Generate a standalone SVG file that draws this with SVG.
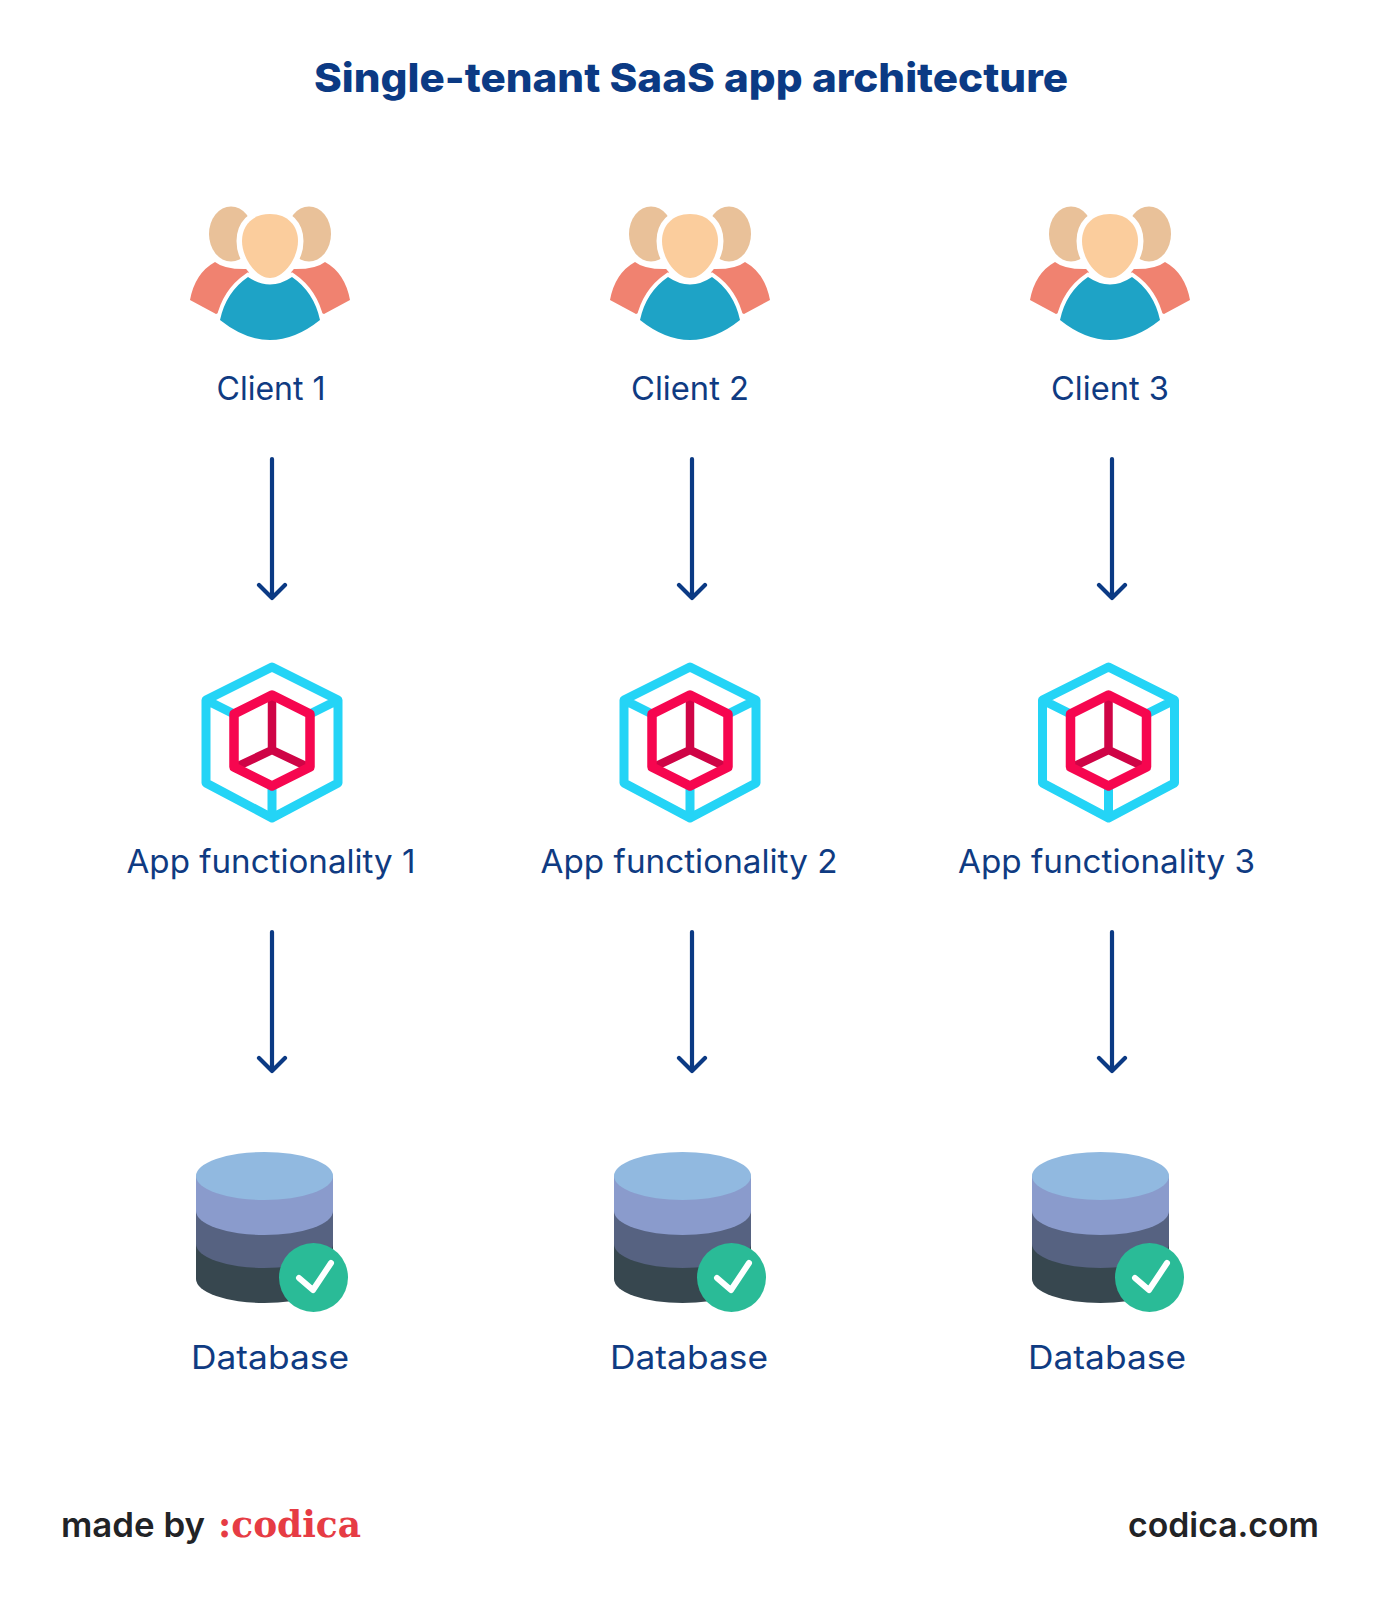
<svg xmlns="http://www.w3.org/2000/svg" width="1380" height="1600" viewBox="0 0 1380 1600">
<style>
text{font-family:"Inter","Liberation Sans",sans-serif}
.title{font-size:40px;font-weight:800;fill:#0b3a84}
.lbl{font-size:32.5px;font-weight:400;fill:#0f3b82}
.foot{font-size:34px;font-weight:600;fill:#222326}
.logo{font-family:"DejaVu Serif","Liberation Serif",serif;font-size:37px;font-weight:700;fill:#e63c44}
.conn{fill:none;stroke:#0b3a84;stroke-width:4.200;stroke-linecap:round;stroke-linejoin:round}
.halo{stroke:#fff;stroke-width:8;paint-order:stroke}
.halo2{stroke:#fff;stroke-width:11;paint-order:stroke}
</style>
<defs>
<g id="people">
<path fill="#f08270" d="M215,262 Q225,270 249,269 L250,300 L216,314 L190,300 Q195,273 215,262Z"/>
<path fill="#f08270" d="M325,262 Q315,270 291,269 L290,300 L324,314 L350,300 Q345,273 325,262Z"/>
<ellipse cx="231" cy="234" rx="22" ry="27.500" fill="#e9c199"/>
<ellipse cx="309" cy="234" rx="22" ry="27.500" fill="#e9c199"/>
<path class="halo" fill="#1ea3c6" d="M248,277 Q270,292 292,277 Q314,292 320,320 Q295,340 270,340 Q245,340 220,320 Q226,292 248,277Z"/>
<path class="halo2" fill="#fbcd9d" d="M270,214 C288,214 298,226 298,241 C298,258 284,278 270,278 C256,278 242,258 242,241 C242,226 252,214 270,214Z"/>
</g>
<g id="cube" fill="none" stroke-linejoin="round">
<path stroke="#24d4f6" stroke-width="9" d="M272,667 L338,700 V783 L272,818 L206,783 V700Z M206,700 L234,714 M338,700 L310,714 M272,818 V786"/>
<path stroke="#cf0446" stroke-width="8.500" d="M272,695 V750 M272,750 L310,768 M272,750 L234,768"/>
<path stroke="#f6064f" stroke-width="9.500" d="M272,695 L310,714 V767 L272,786 L234,767 V714Z"/>
</g>
<g id="db">
<ellipse cx="264.500" cy="1279" rx="68.500" ry="24" fill="#37474f"/>
<path fill="#37474f" d="M196,1244H333V1279H196Z"/>
<ellipse cx="264.500" cy="1244" rx="68.500" ry="24" fill="#566281"/>
<path fill="#566281" d="M196,1211H333V1244H196Z"/>
<ellipse cx="264.500" cy="1211" rx="68.500" ry="24" fill="#8a9bcc"/>
<path fill="#8a9bcc" d="M196,1176H333V1211H196Z"/>
<ellipse cx="264.500" cy="1176" rx="68.500" ry="24" fill="#91b9e0"/>
<circle cx="313.500" cy="1277.500" r="34.500" fill="#2abb97"/>
<path fill="none" stroke="#fff" stroke-width="6" stroke-linecap="round" stroke-linejoin="round" d="M299,1278 L313,1290 L331,1263"/>
</g>
</defs>
<rect width="1380" height="1600" fill="#fff"/>
<text class="title" x="691" y="92" text-anchor="middle" textLength="754" lengthAdjust="spacingAndGlyphs">Single-tenant SaaS app architecture</text>
<g id="connectors">
<path id="c1a" class="conn" d="M272,459V598M259,585L272,598L285,585"/>
<path id="c2a" class="conn" d="M692,459V598M679,585L692,598L705,585"/>
<path id="c3a" class="conn" d="M1112,459V598M1099,585L1112,598L1125,585"/>
<path id="c1b" class="conn" d="M272,932V1071M259,1058L272,1071L285,1058"/>
<path id="c2b" class="conn" d="M692,932V1071M679,1058L692,1071L705,1058"/>
<path id="c3b" class="conn" d="M1112,932V1071M1099,1058L1112,1071L1125,1058"/>
</g>
<g id="client1"><use href="#people"/><text class="lbl" x="271" y="400" text-anchor="middle" textLength="109" lengthAdjust="spacingAndGlyphs">Client 1</text></g>
<g id="client2"><use href="#people" x="420"/><text class="lbl" x="690" y="400" text-anchor="middle" textLength="118" lengthAdjust="spacingAndGlyphs">Client 2</text></g>
<g id="client3"><use href="#people" x="840"/><text class="lbl" x="1110" y="400" text-anchor="middle" textLength="118" lengthAdjust="spacingAndGlyphs">Client 3</text></g>
<g id="app1"><use href="#cube"/><text class="lbl" x="271" y="872.500" text-anchor="middle" textLength="289" lengthAdjust="spacingAndGlyphs">App functionality 1</text></g>
<g id="app2"><use href="#cube" x="418"/><text class="lbl" x="689" y="872.500" text-anchor="middle" textLength="297" lengthAdjust="spacingAndGlyphs">App functionality 2</text></g>
<g id="app3"><use href="#cube" x="836.500"/><text class="lbl" x="1106.500" y="872.500" text-anchor="middle" textLength="297" lengthAdjust="spacingAndGlyphs">App functionality 3</text></g>
<g id="db1"><use href="#db"/><text class="lbl" x="270" y="1368.500" text-anchor="middle" textLength="158" lengthAdjust="spacingAndGlyphs">Database</text></g>
<g id="db2"><use href="#db" x="418"/><text class="lbl" x="689" y="1368.500" text-anchor="middle" textLength="158" lengthAdjust="spacingAndGlyphs">Database</text></g>
<g id="db3"><use href="#db" x="836"/><text class="lbl" x="1107" y="1368.500" text-anchor="middle" textLength="158" lengthAdjust="spacingAndGlyphs">Database</text></g>
<text class="foot" x="61" y="1537" textLength="144" lengthAdjust="spacingAndGlyphs">made by</text>
<text class="logo" x="218" y="1537" textLength="143" lengthAdjust="spacingAndGlyphs">:codica</text>
<text class="foot" x="1128" y="1537" textLength="191" lengthAdjust="spacingAndGlyphs">codica.com</text>
</svg>
